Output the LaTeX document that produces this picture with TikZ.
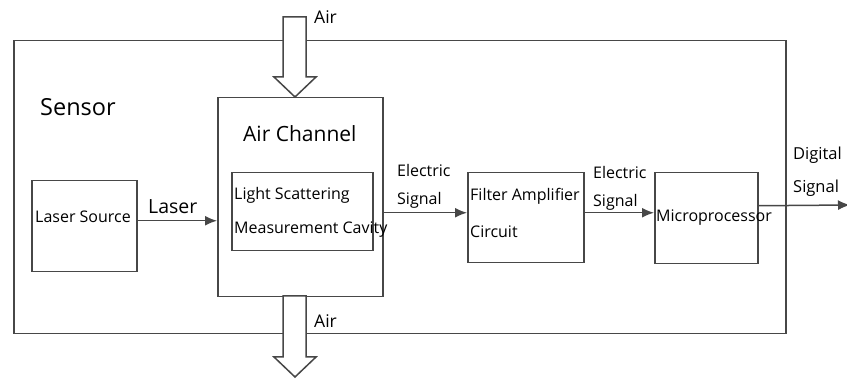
\documentclass[tikz,border=0pt]{standalone}
\usepackage{fontspec}
\setmainfont{Open Sans}
\usetikzlibrary{arrows.meta,calc}
\begin{document}
\begin{tikzpicture}[x=1pt,y=-1pt,
  ln/.style={draw=black!72,line width=1.5pt},
  blk/.style={ln,rectangle,inner sep=0pt,anchor=north west},
  lbl/.style={inner sep=0pt,anchor=west,text=black},
  sm/.style={lbl,font=\fontsize{16}{18}\selectfont},
  md/.style={lbl,font=\fontsize{17.5}{19}\selectfont},
  big/.style={lbl,font=\fontsize{21}{23}\selectfont},
  arr/.style={ln,-{Latex[length=12pt,width=10pt]}},
  hollow/.style={ln,fill=white,line join=miter}]
\useasboundingbox (0,0) rectangle (847,379);
% outer sensor box
\node[blk,minimum width=772pt,minimum height=293pt] (sensor) at (13,40) {};
% blocks
\node[blk,minimum width=105pt,minimum height=91pt] (ls) at (31,180) {};
\node[blk,minimum width=165pt,minimum height=199pt] (ac) at (217,97) {};
\node[blk,minimum width=141pt,minimum height=78pt] (cav) at (231,172) {};
\node[blk,minimum width=116pt,minimum height=90pt] (fa) at (467,172) {};
\node[blk,minimum width=103pt,minimum height=91pt] (mp) at (654,172) {};
% hollow air arrows
\draw[hollow] (283,17) -- (306,17) -- (306,77) -- (316,77) -- (295,97) -- (274,77) -- (283,77) -- cycle;
\draw[hollow] (283,296) -- (306,296) -- (306,357) -- (316,357) -- (295,377) -- (274,357) -- (283,357) -- cycle;
% texts
\node[big,font=\fontsize{23.5}{25}\selectfont] (tsensor) at (40,107) {Sensor};
\node[big] (tac) at (243,134) {Air Channel};
\node[md] (tair1) at (314,17) {Air};
\node[md] (tair2) at (314,321) {Air};
\node[sm] (tls) at (35,217) {Laser Source};
\node[big,font=\fontsize{19.5}{21}\selectfont] (tlaser) at (148,207) {Laser};
\node[sm] (tcav1) at (234,195) {Light Scattering};
\node[sm] (tcav2) at (234,230) {Measurement Cavity};
\node[sm] (te1a) at (397,171) {Electric};
\node[sm] (te1b) at (397,200) {Signal};
\node[sm] (tfa1) at (470,196) {Filter Amplifier};
\node[sm] (tfa2) at (470,232) {Circuit};
\node[sm] (te2a) at (593,173) {Electric};
\node[sm] (te2b) at (593,202) {Signal};
\node[sm] (tmp) at (656,218) {Microprocessor};
\node[sm,font=\fontsize{16.5}{18}\selectfont] (tds1) at (793,155) {Digital};
\node[sm,font=\fontsize{16.5}{18}\selectfont] (tds2) at (793,188) {Signal};
% connectors
\coordinate (lsout) at ([yshift=5.5pt]ls.east);
\draw[arr] (lsout) -- (ac.west |- lsout);
\coordinate (fain) at ([yshift=5pt]fa.west);
\draw[arr] (ac.east |- fain) -- (fain);
\coordinate (mpin) at ([yshift=5.5pt]mp.west);
\draw[arr] (fa.east |- mpin) -- (mpin);
\coordinate (mpout) at ([yshift=12.5pt]mp.east);
\coordinate (dsend) at (850,205);
\draw[arr] (mpout) -- (dsend);
\end{tikzpicture}
\end{document}
